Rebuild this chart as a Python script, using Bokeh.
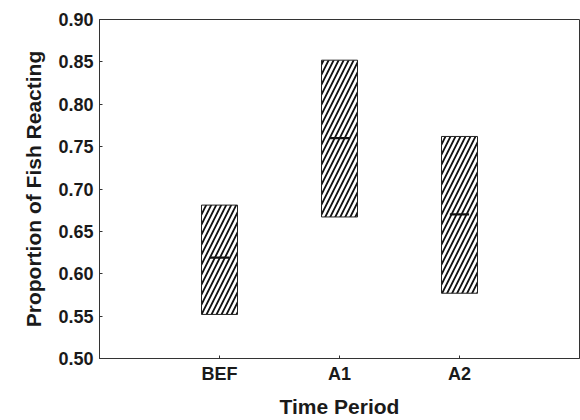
from bokeh.plotting import figure
from bokeh.models import Range1d, FixedTicker, ColumnDataSource
from bokeh.embed import file_html
from bokeh.resources import INLINE

categories = ["BEF", "A1", "A2"]
means = [0.619, 0.760, 0.670]
lower = [0.552, 0.667, 0.577]
upper = [0.681, 0.852, 0.762]
y_ticks = [0.50, 0.55, 0.60, 0.65, 0.70, 0.75, 0.80, 0.85, 0.90]

xs = [i + 1 for i in range(len(categories))]
box_w = 0.30
mean_hw = 0.08

src = ColumnDataSource(dict(
    x=xs, top=upper, bottom=lower, mean=means,
    x0=[x - mean_hw for x in xs], x1=[x + mean_hw for x in xs],
))

p = figure(width=580, height=420, output_backend="svg", toolbar_location=None,
           x_range=Range1d(0, 4.0), y_range=Range1d(0.50, 0.90),
           min_border_left=99, min_border_top=19, min_border_right=1, min_border_bottom=57)

p.vbar(x="x", width=box_w, top="top", bottom="bottom", source=src,
       fill_color="white", line_color="#222222", line_width=1,
       hatch_pattern="/", hatch_scale=10, hatch_weight=1.8, hatch_color="#111111")
p.segment(x0="x0", x1="x1", y0="mean", y1="mean", source=src,
          line_color="#111111", line_width=2.2)

p.grid.visible = False
p.outline_line_color = "#333333"
p.outline_line_width = 1
p.background_fill_color = "white"
p.border_fill_color = "white"

font = "Liberation Sans"
p.xaxis.ticker = FixedTicker(ticks=xs)
p.xaxis.major_label_overrides = {x: c for x, c in zip(xs, categories)}
p.yaxis.ticker = FixedTicker(ticks=y_ticks)
p.yaxis.major_label_overrides = {t: f"{t:.2f}" for t in y_ticks}

for ax in (p.xaxis[0], p.yaxis[0]):
    ax.axis_line_color = "#333333"
    ax.major_tick_line_color = "#333333"
    ax.minor_tick_line_color = None
    ax.major_tick_in = 3
    ax.major_tick_out = 0
    ax.major_label_text_font = font
    ax.major_label_text_font_style = "bold"
    ax.major_label_text_font_size = "18px"
    ax.major_label_text_color = "#1a1a1a"
    ax.axis_label_text_font = font
    ax.axis_label_text_font_style = "bold"
    ax.axis_label_text_font_size = "21px"
    ax.axis_label_text_color = "#1a1a1a"

p.xaxis.axis_label = "Time Period"
p.yaxis.axis_label = "Proportion of Fish Reacting"
p.xaxis.major_label_standoff = 5
p.xaxis.axis_label_standoff = 8
p.yaxis.major_label_standoff = 6
p.yaxis.axis_label_standoff = 10

open("out.html", "w").write(file_html(p, INLINE))
